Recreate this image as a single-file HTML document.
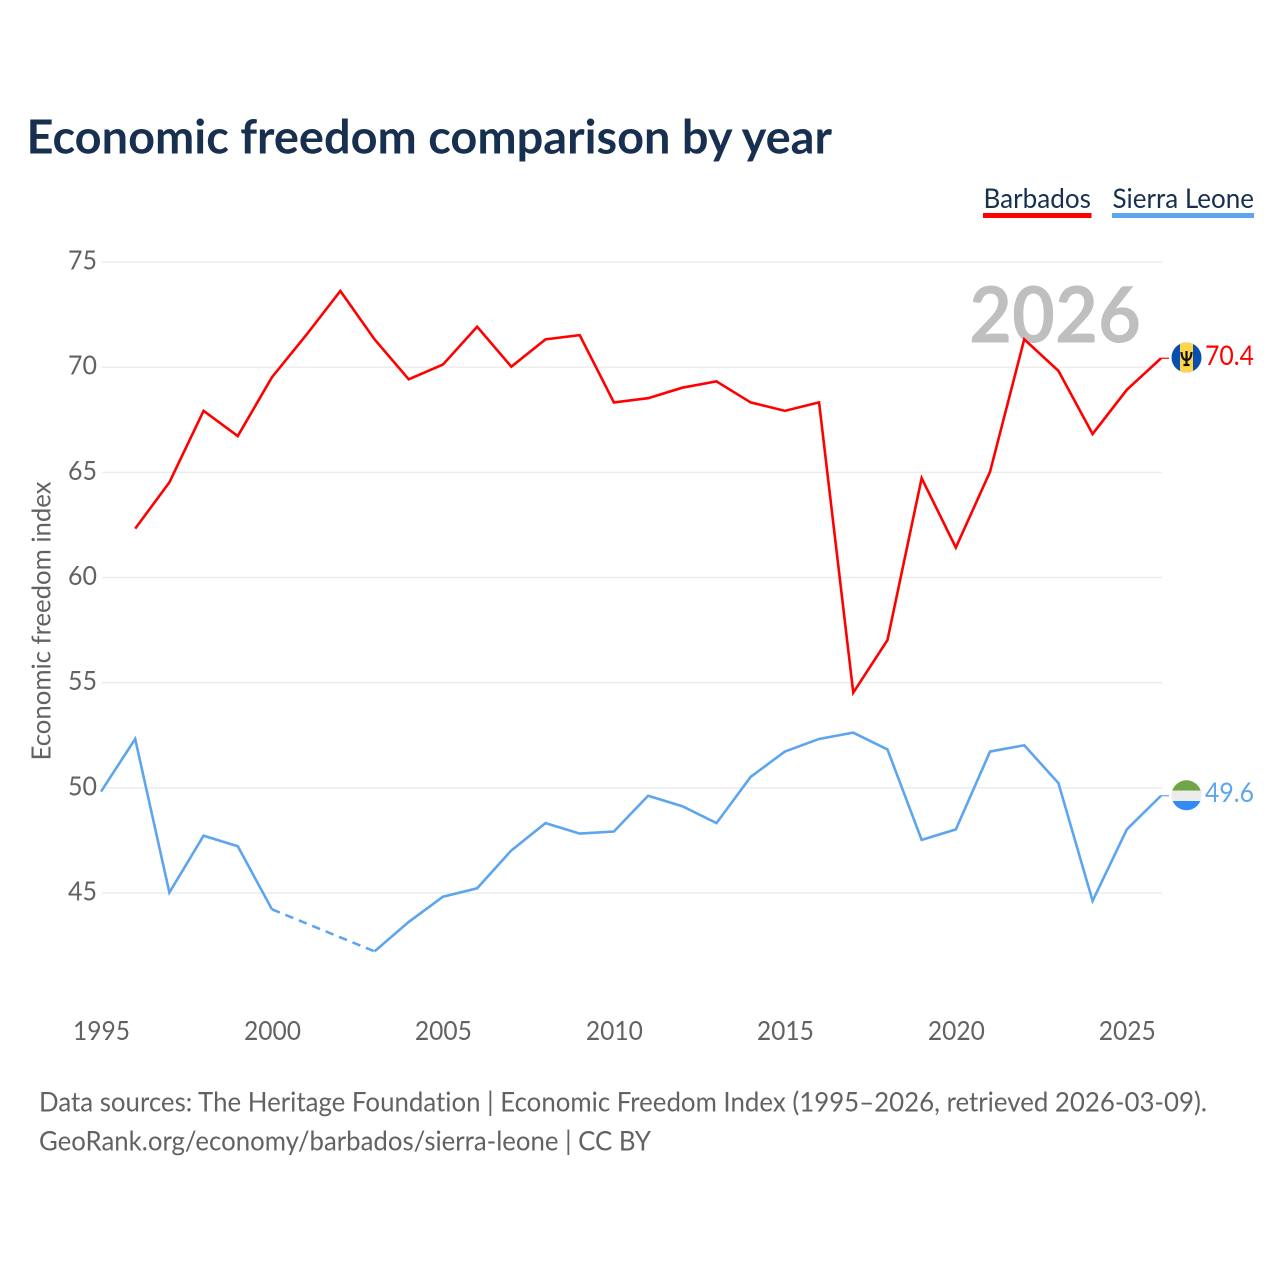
<!DOCTYPE html>
<html lang="en">
<head>
<meta charset="utf-8">
<title>Economic freedom comparison by year</title>
<style>
html,body{margin:0;padding:0;background:#fff;}
svg{display:block;font-family:"Lato","Carlito","Liberation Sans",sans-serif;font-variant-ligatures:none;}
</style>
</head>
<body>
<svg id="chart" xmlns="http://www.w3.org/2000/svg" width="1280" height="1280" viewBox="0 0 1280 1280">
  <rect x="0" y="0" width="1280" height="1280" fill="#ffffff"/>
  <text x="26.5" y="153.5" font-size="47" font-weight="700" fill="#18304f" textLength="805.5" lengthAdjust="spacingAndGlyphs">Economic freedom comparison by year</text>
  <g>
    <g>
      <text x="983.5" y="208" font-size="27.5" fill="#18304f" textLength="107.5" lengthAdjust="spacingAndGlyphs">Barbados</text>
      <rect x="983" y="213" width="108.5" height="5" fill="#ff0000"/>
    </g>
    <g>
      <text x="1112.5" y="208" font-size="27.5" fill="#18304f" textLength="141.5" lengthAdjust="spacingAndGlyphs">Sierra Leone</text>
      <rect x="1112" y="213" width="142" height="5" fill="#5da5ee"/>
    </g>
  </g>
  <g id="grid"></g>
  <g id="ylabels"></g>
  <g id="xlabels"></g>
  <text transform="translate(50.5,621) rotate(-90)" text-anchor="middle" font-size="26" fill="#626262" textLength="279" lengthAdjust="spacingAndGlyphs">Economic freedom index</text>
  <text x="969" y="342.5" font-size="78" font-weight="700" fill="#bfbfbf" textLength="172" lengthAdjust="spacingAndGlyphs">2026</text>
  <g id="series"></g>
  <g id="endlabels"></g>
  <g>
    <text x="39" y="1111.5" font-size="27" fill="#626262" textLength="1168" lengthAdjust="spacingAndGlyphs">Data sources: The Heritage Foundation | Economic Freedom Index (1995–2026, retrieved 2026-03-09).</text>
    <text x="39" y="1150.5" font-size="27" fill="#626262" textLength="612" lengthAdjust="spacingAndGlyphs">GeoRank.org/economy/barbados/sierra-leone | CC BY</text>
  </g>
  <defs>
    <clipPath id="clip-bb"><circle cx="1186.5" cy="357.5" r="15"/></clipPath>
    <clipPath id="clip-sl"><circle cx="1186.5" cy="795.3" r="15"/></clipPath>
  </defs>
  <g clip-path="url(#clip-bb)">
    <rect x="1171" y="342" width="31" height="31" fill="#0a4fb0"/>
    <rect x="1180" y="342" width="13" height="31" fill="#ffd64a"/>
    <path d="M1186.5 351V365.5M1183.5 365H1189.5M1181.5 352C1181.8 358 1184 360 1186.5 360C1189 360 1191.2 358 1191.5 352" fill="none" stroke="#111" stroke-width="2.2"/>
  </g>
  <g clip-path="url(#clip-sl)">
    <rect x="1171" y="780" width="31" height="10.7" fill="#6fa544"/>
    <rect x="1171" y="790.7" width="31" height="10.3" fill="#ececec"/>
    <rect x="1171" y="801" width="31" height="10" fill="#338af3"/>
  </g>
</svg>
<script>
const yearsAxis = [1995, 2026];
const yTicks = [45, 50, 55, 60, 65, 70, 75];
const xTickLabels = [1995, 2000, 2005, 2010, 2015, 2020, 2025];
const years = [1995,1996,1997,1998,1999,2000,2001,2002,2003,2004,2005,2006,2007,2008,2009,2010,2011,2012,2013,2014,2015,2016,2017,2018,2019,2020,2021,2022,2023,2024,2025,2026];
const barbadosValues = [null,62.3,64.5,67.9,66.7,69.5,71.5,73.6,71.3,69.4,70.1,71.9,70.0,71.3,71.5,68.3,68.5,69.0,69.3,68.3,67.9,68.3,54.5,57.0,64.7,61.4,65.0,71.3,69.8,66.8,68.9,70.4];
const sierraLeoneValues = [49.8,52.3,45.0,47.7,47.2,44.2,null,null,42.2,43.6,44.8,45.2,47.0,48.3,47.8,47.9,49.6,49.1,48.3,50.5,51.7,52.3,52.6,51.8,47.5,48.0,51.7,52.0,50.2,44.6,48.0,49.6];

const NS = 'http://www.w3.org/2000/svg';
const plotLeft = 101, plotRight = 1161, plotTop = 262, plotBottom = 893;
const lineOffsetY = -0.5;
function xScale(year) {
  return plotLeft + (year - yearsAxis[0]) * (plotRight - plotLeft) / (yearsAxis[1] - yearsAxis[0]);
}
function yScale(value) {
  return plotTop + (75 - value) * (plotBottom - plotTop) / 30;
}
function make(tag, attrs, parent) {
  const el = document.createElementNS(NS, tag);
  for (const k in attrs) el.setAttribute(k, attrs[k]);
  parent.appendChild(el);
  return el;
}
const grid = document.getElementById('grid');
const ylabels = document.getElementById('ylabels');
const xlabels = document.getElementById('xlabels');
const seriesG = document.getElementById('series');
const endlabels = document.getElementById('endlabels');

yTicks.forEach(function (t) {
  const line = make('line', {x1: 102, x2: 1162, y1: yScale(t), y2: yScale(t), stroke: '#ececec', 'stroke-width': 1.5}, grid);
  
  
  const label = make('text', {x: 97, y: yScale(t) + 7.5, 'text-anchor': 'end', 'font-size': 26, fill: '#626262', textLength: 29, lengthAdjust: 'spacingAndGlyphs'}, ylabels);
  
  
  label.textContent = t;
});
xTickLabels.forEach(function (t) {
  const label = make('text', {x: xScale(t) + 0.5, y: 1040, 'text-anchor': 'middle', 'font-size': 26, fill: '#626262', textLength: 57, lengthAdjust: 'spacingAndGlyphs'}, xlabels);
  
  
  label.textContent = t;
});

function drawSeries(values, color, slug) {
  let solid = '';
  let dashed = '';
  let last = null;
  let gap = false;
  values.forEach(function (v, i) {
    if (v === null) { if (last) gap = true; return; }
    const p = xScale(years[i]).toFixed(2) + ' ' + (yScale(v) + lineOffsetY).toFixed(2);
    if (gap && last) { dashed += 'M' + last + 'L' + p; solid += 'M' + p; gap = false; }
    else solid += (last ? 'L' : 'M') + p;
    last = p;
  });
  if (dashed) {
    const d = make('path', {d: dashed, fill: 'none', stroke: color, 'stroke-width': 2.6, 'stroke-dasharray': '8.5 6'}, seriesG);
    
    
  }
  const s = make('path', {d: solid, fill: 'none', stroke: color, 'stroke-width': 2.6, 'stroke-linejoin': 'miter'}, seriesG);
  
  
  const endValue = values[values.length - 1];
  const yEnd = yScale(endValue) + lineOffsetY;
  const c = make('line', {x1: xScale(years[years.length - 1]), x2: 1169, y1: yEnd, y2: yEnd, stroke: color, 'stroke-width': 1.2}, seriesG);
  
  
  return endValue;
}
const bbEnd = drawSeries(barbadosValues, '#ff0000', 'barbados');
const slEnd = drawSeries(sierraLeoneValues, '#5da5ee', 'sierra-leone');

const bbLabel = make('text', {x: 1205, y: 365, 'font-size': 27, fill: '#ff0000', textLength: 49, lengthAdjust: 'spacingAndGlyphs'}, endlabels);


bbLabel.textContent = bbEnd.toFixed(1);
const slLabel = make('text', {x: 1205, y: 802, 'font-size': 27, fill: '#5da5ee', textLength: 49, lengthAdjust: 'spacingAndGlyphs'}, endlabels);


slLabel.textContent = slEnd.toFixed(1);
</script>
</body>
</html>
